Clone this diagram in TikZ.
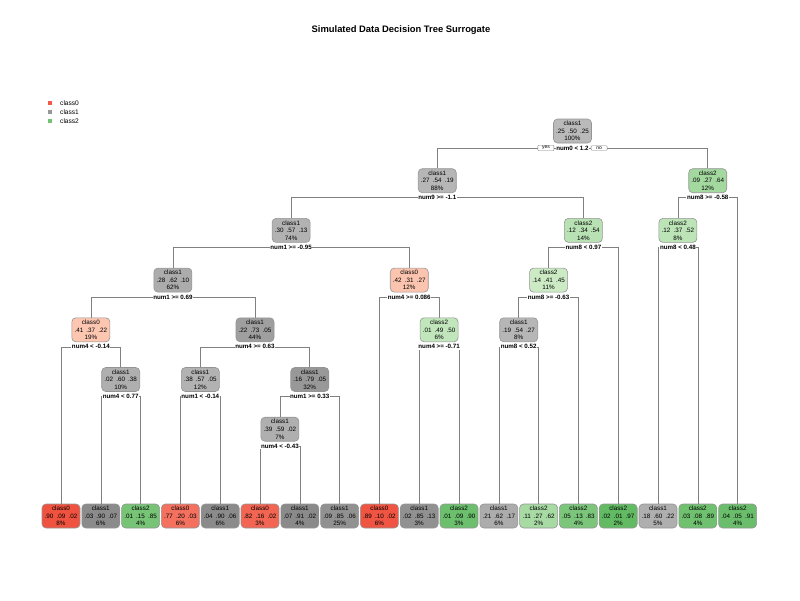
\documentclass[tikz,border=0pt]{standalone}
\usepackage{fontspec}
\setmainfont{Liberation Sans}
\usetikzlibrary{backgrounds,positioning}
\definecolor{czL}{HTML}{FCC9B4}
\definecolor{czD}{HTML}{EF4634}
\definecolor{coL}{HTML}{C6C6C6}
\definecolor{coD}{HTML}{858585}
\definecolor{ctL}{HTML}{D6F0CF}
\definecolor{ctD}{HTML}{62BA63}
\newcommand\prb[3]{#1\enspace#2\enspace#3}
\tikzset{
  nd/.style={draw=black!42, line width=0.6pt, rounded corners=4pt, minimum width=38pt,
    minimum height=24pt, inner sep=1pt, align=center, font=\fontsize{6.3}{7.6}\selectfont},
  cA/.style={fill=czD!#1!czL},
  cB/.style={fill=coD!#1!coL},
  cC/.style={fill=ctD!#1!ctL},
  sp/.style={fill=white, inner sep=0.6pt, font=\bfseries\fontsize{6.2}{7}\selectfont},
  br/.style={draw=black!50, line width=0.6pt},
  yn/.style={draw=black!50, fill=white, line width=0.4pt, rounded corners=0.8pt, inner sep=0.9pt,
    minimum width=16pt, font=\fontsize{5}{5.5}\selectfont},
  lg/.style={minimum size=4.5pt, inner sep=0pt},
  lgt/.style={anchor=west, inner sep=0pt, font=\fontsize{6.6}{7}\selectfont},
}
\begin{document}
\begin{tikzpicture}[x=1pt,y=-1pt]
\useasboundingbox (0,0) rectangle (800,600);
\node[font=\bfseries\fontsize{9.4}{11}\selectfont] (title) at (401,30) {Simulated Data Decision Tree Surrogate};
% legend
\node[lg, fill=czD!85!czL] (k0) at (50,103) {};
\node[lg, fill=coD!70!coL] (k1) at (50,112) {};
\node[lg, fill=ctD!85!ctL] (k2) at (50,121) {};
\node[lgt] (t0) at (60,103) {class0};
\node[lgt] (t1) at (60,112) {class1};
\node[lgt] (t2) at (60,121) {class2};
% internal nodes
\node[nd,cB=18] (r) at (572.5,131) {class1\\\prb{.25}{.50}{.25}\\100\%};
\node[sp] (rs) at (572.5,148) {num0 < 1.2};
\node[yn, left=1.5pt of rs] (yes) {yes};
\node[yn, right=1.5pt of rs] (no) {no};
\node[nd,cB=25] (A) at (437.25,180.7) {class1\\\prb{.27}{.54}{.19}\\88\%};
\node[sp] (As) at (437.25,197.7) {num9 >= -1.1};
\node[nd,cC=44] (B) at (707.75,180.7) {class2\\\prb{.09}{.27}{.64}\\12\%};
\node[sp] (Bs) at (707.75,197.7) {num8 >= -0.58};
\node[nd,cB=31] (C) at (291.1,230.4) {class1\\\prb{.30}{.57}{.13}\\74\%};
\node[sp] (Cs) at (291.1,247.4) {num1 >= -0.95};
\node[nd,cC=25] (D) at (583.4,230.4) {class2\\\prb{.12}{.34}{.54}\\14\%};
\node[sp] (Ds) at (583.4,247.4) {num8 < 0.97};
\node[nd,cC=22] (E) at (677.9,230.4) {class2\\\prb{.12}{.37}{.52}\\8\%};
\node[sp] (Es) at (677.9,247.4) {num8 < 0.48};
\node[nd,cB=40] (F) at (172.9,280.1) {class1\\\prb{.28}{.62}{.10}\\62\%};
\node[sp] (Fs) at (172.9,297.1) {num1 >= 0.69};
\node[nd,cA=4] (G) at (409.25,280.1) {class0\\\prb{.42}{.31}{.27}\\12\%};
\node[sp] (Gs) at (409.25,297.1) {num4 >= 0.086};
\node[nd,cC=9] (H) at (548.55,280.1) {class2\\\prb{.14}{.41}{.45}\\11\%};
\node[sp] (Hs) at (548.55,297.1) {num8 >= -0.63};
\node[nd,cA=2] (I) at (90.85,329.8) {class0\\\prb{.41}{.37}{.22}\\19\%};
\node[sp] (Is) at (90.85,346.8) {num4 < -0.14};
\node[nd,cB=60] (J) at (255.0,329.8) {class1\\\prb{.22}{.73}{.05}\\44\%};
\node[sp] (Js) at (255.0,346.8) {num4 >= 0.63};
\node[nd,cC=18] (K) at (439.1,329.8) {class2\\\prb{.01}{.49}{.50}\\6\%};
\node[sp] (Ks) at (439.1,346.8) {num4 >= -0.71};
\node[nd,cB=25] (M) at (518.7,329.8) {class1\\\prb{.19}{.54}{.27}\\8\%};
\node[sp] (Ms) at (518.7,346.8) {num8 < 0.52};
\node[nd,cB=36] (N) at (120.7,379.5) {class1\\\prb{.02}{.60}{.38}\\10\%};
\node[sp] (Ns) at (120.7,396.5) {num4 < 0.77};
\node[nd,cB=31] (O) at (200.3,379.5) {class1\\\prb{.38}{.57}{.05}\\12\%};
\node[sp] (Os) at (200.3,396.5) {num1 < -0.14};
\node[nd,cB=71] (P) at (309.75,379.5) {class1\\\prb{.16}{.79}{.05}\\32\%};
\node[sp] (Ps) at (309.75,396.5) {num1 >= 0.33};
\node[nd,cB=35] (Q) at (279.9,429.2) {class1\\\prb{.39}{.59}{.02}\\7\%};
\node[sp] (Qs) at (279.9,446.2) {num4 < -0.43};
% leaves
\node[nd,cA=91] (l0) at (61.0,516) {class0\\\prb{.90}{.09}{.02}\\8\%};
\node[nd,cB=91] (l1) at (100.8,516) {class1\\\prb{.03}{.90}{.07}\\6\%};
\node[nd,cC=82] (l2) at (140.6,516) {class2\\\prb{.01}{.15}{.85}\\4\%};
\node[nd,cA=67] (l3) at (180.4,516) {class0\\\prb{.77}{.20}{.03}\\6\%};
\node[nd,cB=91] (l4) at (220.2,516) {class1\\\prb{.04}{.90}{.06}\\6\%};
\node[nd,cA=76] (l5) at (260.0,516) {class0\\\prb{.82}{.16}{.02}\\3\%};
\node[nd,cB=93] (l6) at (299.8,516) {class1\\\prb{.07}{.91}{.02}\\4\%};
\node[nd,cB=82] (l7) at (339.6,516) {class1\\\prb{.09}{.85}{.06}\\25\%};
\node[nd,cA=89] (l8) at (379.4,516) {class0\\\prb{.89}{.10}{.02}\\6\%};
\node[nd,cB=82] (l9) at (419.2,516) {class1\\\prb{.02}{.85}{.13}\\3\%};
\node[nd,cC=91] (l10) at (459.0,516) {class2\\\prb{.01}{.09}{.90}\\3\%};
\node[nd,cB=40] (l11) at (498.8,516) {class1\\\prb{.21}{.62}{.17}\\6\%};
\node[nd,cC=40] (l12) at (538.6,516) {class2\\\prb{.11}{.27}{.62}\\2\%};
\node[nd,cC=78] (l13) at (578.4,516) {class2\\\prb{.05}{.13}{.83}\\4\%};
\node[nd,cC=100] (l14) at (618.2,516) {class2\\\prb{.02}{.01}{.97}\\2\%};
\node[nd,cB=36] (l15) at (658.0,516) {class1\\\prb{.18}{.60}{.22}\\5\%};
\node[nd,cC=89] (l16) at (697.8,516) {class2\\\prb{.03}{.08}{.89}\\4\%};
\node[nd,cC=93] (l17) at (737.6,516) {class2\\\prb{.04}{.05}{.91}\\4\%};
% branches
\begin{pgfonlayer}{background}
\draw[br] (rs.center) -| (A.north);  \draw[br] (rs.center) -| (B.north);
\draw[br] (As.center) -| (C.north);  \draw[br] (As.center) -| (D.north);
\draw[br] (Bs.center) -| (E.north);  \draw[br] (Bs.center) -| (l17.north);
\draw[br] (Cs.center) -| (F.north);  \draw[br] (Cs.center) -| (G.north);
\draw[br] (Ds.center) -| (H.north);  \draw[br] (Ds.center) -| (l14.north);
\draw[br] (Es.center) -| (l15.north); \draw[br] (Es.center) -| (l16.north);
\draw[br] (Fs.center) -| (I.north);  \draw[br] (Fs.center) -| (J.north);
\draw[br] (Gs.center) -| (l8.north); \draw[br] (Gs.center) -| (K.north);
\draw[br] (Hs.center) -| (M.north);  \draw[br] (Hs.center) -| (l13.north);
\draw[br] (Is.center) -| (l0.north); \draw[br] (Is.center) -| (N.north);
\draw[br] (Js.center) -| (O.north);  \draw[br] (Js.center) -| (P.north);
\draw[br] (Ks.center) -| (l9.north); \draw[br] (Ks.center) -| (l10.north);
\draw[br] (Ms.center) -| (l11.north); \draw[br] (Ms.center) -| (l12.north);
\draw[br] (Ns.center) -| (l1.north); \draw[br] (Ns.center) -| (l2.north);
\draw[br] (Os.center) -| (l3.north); \draw[br] (Os.center) -| (l4.north);
\draw[br] (Ps.center) -| (Q.north);  \draw[br] (Ps.center) -| (l7.north);
\draw[br] (Qs.center) -| (l5.north); \draw[br] (Qs.center) -| (l6.north);
\end{pgfonlayer}
\end{tikzpicture}
\end{document}
